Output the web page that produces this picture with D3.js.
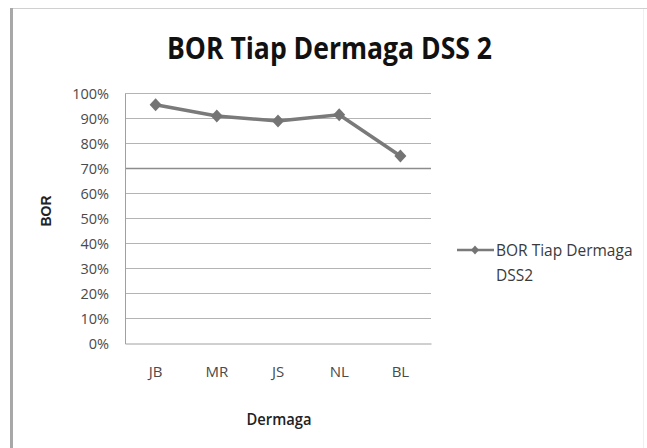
<!DOCTYPE html>
<html>
<head>
<meta charset="utf-8">
<script src="https://cdn.jsdelivr.net/npm/d3@7"></script>
<style>
  html, body { margin: 0; padding: 0; background: #fff; }
  svg { display: block; }
</style>
</head>
<body>
<svg id="chart" width="647" height="448"></svg>
<script>
const categories = ["JB", "MR", "JS", "NL", "BL"];
const values = [0.955, 0.91, 0.89, 0.915, 0.75];
const yTicks = [0, 0.1, 0.2, 0.3, 0.4, 0.5, 0.6, 0.7, 0.8, 0.9, 1.0];
const seriesName = ["BOR Tiap Dermaga", "DSS2"];
const titleText = "BOR Tiap Dermaga DSS 2";
const xTitle = "Dermaga";
const yTitle = "BOR";

const svg = d3.select("#chart");
const W = 647, H = 448;
const plot = { left: 125, right: 431, top: 93.5, bottom: 343.5 };

// frame
svg.append("rect").attr("x", 0).attr("y", 0).attr("width", W).attr("height", H).attr("fill", "#fff");
svg.append("line").attr("x1", 11).attr("x2", W).attr("y1", 8.5).attr("y2", 8.5)
  .attr("stroke", "#d0d0d0").attr("stroke-width", 1);
svg.append("line").attr("x1", 11.5).attr("x2", 11.5).attr("y1", 8).attr("y2", H)
  .attr("stroke", "#a8a8a8").attr("stroke-width", 3);
svg.append("line").attr("x1", 643.5).attr("x2", 643.5).attr("y1", 9).attr("y2", H)
  .attr("stroke", "#f0f0f0").attr("stroke-width", 1);

const x = d3.scaleBand().domain(categories).range([plot.left, plot.right]);
const y = d3.scaleLinear().domain([0, 1]).range([plot.bottom, plot.top]);

// gridlines
svg.append("g").selectAll("line").data(yTicks.filter(d => d > 0)).join("line")
  .attr("x1", plot.left).attr("x2", plot.right)
  .attr("y1", d => y(d)).attr("y2", d => y(d))
  .attr("stroke", d => Math.abs(d - 0.7) < 1e-9 ? "#8c8c8c" : "#b4b4b4")
  .attr("stroke-width", d => Math.abs(d - 0.7) < 1e-9 ? 1.6 : 1);

// axes
const yAxis = d3.axisLeft(y).tickValues(yTicks).tickFormat(d3.format(".0%")).tickSize(0).tickPadding(16);
const gy = svg.append("g").attr("transform", `translate(${plot.left},0)`).call(yAxis);
gy.select(".domain").attr("stroke", "#a0a0a0");
gy.selectAll("text").attr("font-family", "Open Sans").attr("font-size", 14.5).attr("fill", "#4a4a4a");

const xAxis = d3.axisBottom(x).tickSize(0).tickPadding(23);
const gx = svg.append("g").attr("transform", `translate(0,${plot.bottom})`).call(xAxis);
gx.select(".domain").attr("stroke", "#a0a0a0");
gx.selectAll("text").attr("font-family", "Open Sans").attr("font-size", 15).attr("fill", "#4a4a4a");

// custom diamond marker path generator (w x h)
const diamondPath = (w, h) => {
  const p = d3.path();
  p.moveTo(0, -h / 2); p.lineTo(w / 2, 0); p.lineTo(0, h / 2); p.lineTo(-w / 2, 0); p.closePath();
  return p.toString();
};

// line
const line = d3.line().x((d, i) => x(categories[i]) + x.bandwidth() / 2).y(d => y(d));
svg.append("path").datum(values).attr("d", line)
  .attr("fill", "none").attr("stroke", "#7a7a7a").attr("stroke-width", 3.5).attr("stroke-linejoin", "round");

svg.append("g").selectAll("path").data(values).join("path")
  .attr("d", diamondPath(12, 13))
  .attr("transform", (d, i) => `translate(${x(categories[i]) + x.bandwidth() / 2},${y(d)})`)
  .attr("fill", "#747474");

// title
svg.append("text").attr("x", 329.5).attr("y", 59).attr("text-anchor", "middle")
  .attr("font-family", "Open Sans").attr("font-weight", "bold").attr("font-size", 31)
  .attr("textLength", 325).attr("lengthAdjust", "spacingAndGlyphs")
  .attr("fill", "#111").text(titleText);

// axis titles
svg.append("text").attr("x", 279).attr("y", 425).attr("text-anchor", "middle")
  .attr("font-family", "Open Sans").attr("font-weight", "600").attr("font-size", 16)
  .attr("textLength", 65).attr("lengthAdjust", "spacingAndGlyphs")
  .attr("fill", "#222").text(xTitle);

svg.append("text").attr("transform", "translate(51,211) rotate(-90)").attr("text-anchor", "middle")
  .attr("font-family", "Liberation Sans").attr("font-weight", "bold").attr("font-size", 14)
  .attr("fill", "#222").text(yTitle);

// legend
const lg = svg.append("g");
lg.append("line").attr("x1", 457).attr("x2", 494).attr("y1", 250).attr("y2", 250)
  .attr("stroke", "#7a7a7a").attr("stroke-width", 2.5);
lg.append("path").attr("d", diamondPath(8, 9)).attr("transform", "translate(475,250)").attr("fill", "#747474");
lg.selectAll("text").data(seriesName).join("text")
  .attr("x", 496).attr("y", (d, i) => 256 + i * 25)
  .attr("font-family", "Open Sans").attr("font-size", 15.5).attr("fill", "#3a3a3a")
  .text(d => d);
</script>
</body>
</html>
